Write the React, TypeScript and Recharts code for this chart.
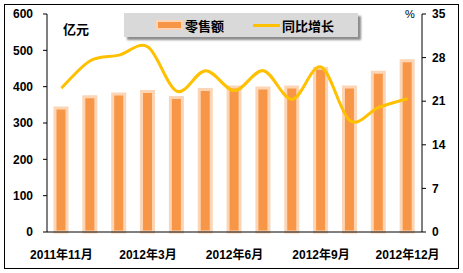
import React from "react";
import {
  ComposedChart,
  Bar,
  Line,
  XAxis,
  YAxis,
} from "recharts";

const months = [
  "2011年11月",
  "2011年12月",
  "2012年2月",
  "2012年3月",
  "2012年4月",
  "2012年5月",
  "2012年6月",
  "2012年7月",
  "2012年8月",
  "2012年9月",
  "2012年10月",
  "2012年11月",
  "2012年12月",
];
const sales = [341, 372, 380, 387, 370, 392, 399, 396, 399, 451, 399, 440, 471];
const growth = [23.1, 27.5, 28.4, 29.7, 22.6, 25.9, 22.7, 25.9, 21.3, 26.5, 17.9, 20.0, 21.4];
const leftTicks = [0, 100, 200, 300, 400, 500, 600];
const rightTicks = [0, 7, 14, 21, 28, 35];

const data = months.map((m, i) => ({ month: m, sales: sales[i], growth: growth[i] }));

const font = "'Liberation Sans', Arial, 'Noto Sans CJK SC', sans-serif";
const tickStyle = { fill: "#000", fontSize: 12, fontWeight: 700, fontFamily: font };

// smooth line like the spreadsheet one (catmull-rom through the points)
const smooth = (context: any) => {
  let pts: [number, number][] = [];
  return {
    areaStart() {},
    areaEnd() {},
    lineStart() {
      pts = [];
    },
    lineEnd() {
      if (!pts.length) return;
      context.moveTo(pts[0][0], pts[0][1]);
      for (let i = 0; i < pts.length - 1; i++) {
        const p0 = pts[Math.max(i - 1, 0)];
        const p1 = pts[i];
        const p2 = pts[i + 1];
        const p3 = pts[Math.min(i + 2, pts.length - 1)];
        context.bezierCurveTo(
          p1[0] + (p2[0] - p0[0]) / 6,
          p1[1] + (p2[1] - p0[1]) / 6,
          p2[0] - (p3[0] - p1[0]) / 6,
          p2[1] - (p3[1] - p1[1]) / 6,
          p2[0],
          p2[1]
        );
      }
    },
    point(x: number, y: number) {
      pts.push([x, y]);
    },
  };
};

const App: React.FC = () => {
  return (
    <div style={{ position: "absolute", left: 0, top: 0, width: 463, height: 273, background: "#fff" }}>
      <div
        style={{
          position: "absolute",
          left: 4,
          top: 4,
          width: 453,
          height: 263,
          border: "1px solid #000",
        }}
      />
      <ComposedChart
        width={463}
        height={273}
        data={data}
        margin={{ top: 14, right: 0, bottom: 0, left: 0 }}
      >
        <XAxis
          dataKey="month"
          interval={2}
          height={41}
          tick={tickStyle}
          tickLine={false}
          tickMargin={12}
          axisLine={{ stroke: "#000" }}
        />
        <YAxis
          yAxisId="left"
          width={47}
          domain={[0, 600]}
          ticks={leftTicks}
          tick={tickStyle}
          tickSize={4}
          tickMargin={10}
          tickLine={{ stroke: "#000" }}
          axisLine={{ stroke: "#000" }}
        />
        <YAxis
          yAxisId="right"
          orientation="right"
          width={41}
          domain={[0, 35]}
          ticks={rightTicks}
          tick={tickStyle}
          tickSize={4}
          tickMargin={6}
          tickLine={{ stroke: "#000" }}
          axisLine={{ stroke: "#000" }}
        />
        <Bar
          yAxisId="left"
          dataKey="sales"
          barSize={12}
          fill="#F79646"
          stroke="#FBD5B5"
          strokeWidth={3}
          isAnimationActive={false}
        />
        <Line
          yAxisId="right"
          dataKey="growth"
          type={smooth as any}
          stroke="#FFC000"
          strokeWidth={3}
          dot={false}
          isAnimationActive={false}
        />
      </ComposedChart>
      <div
        style={{
          position: "absolute",
          left: 63,
          top: 19,
          fontFamily: font,
          fontSize: 13,
          fontWeight: 700,
        }}
      >
        亿元
      </div>
      <div
        style={{
          position: "absolute",
          left: 405,
          top: 8,
          fontFamily: font,
          fontSize: 11,
        }}
      >
        %
      </div>
      <div
        style={{
          position: "absolute",
          left: 124,
          top: 13,
          width: 234,
          height: 24,
          background: "#D9D9D9",
          boxShadow: "3px 3px 2px #8c8c8c",
          fontFamily: font,
          fontSize: 13,
          fontWeight: 700,
          display: "flex",
          alignItems: "center",
        }}
      >
        <span
          style={{
            marginLeft: 32,
            width: 23,
            height: 6,
            background: "#F79646",
            border: "2px solid #FBD5B5",
          }}
        />
        <span style={{ marginLeft: 2 }}>零售额</span>
        <span style={{ marginLeft: 29, width: 27, height: 3, background: "#FFC000" }} />
        <span style={{ marginLeft: 2 }}>同比增长</span>
      </div>
    </div>
  );
};

export default App;
